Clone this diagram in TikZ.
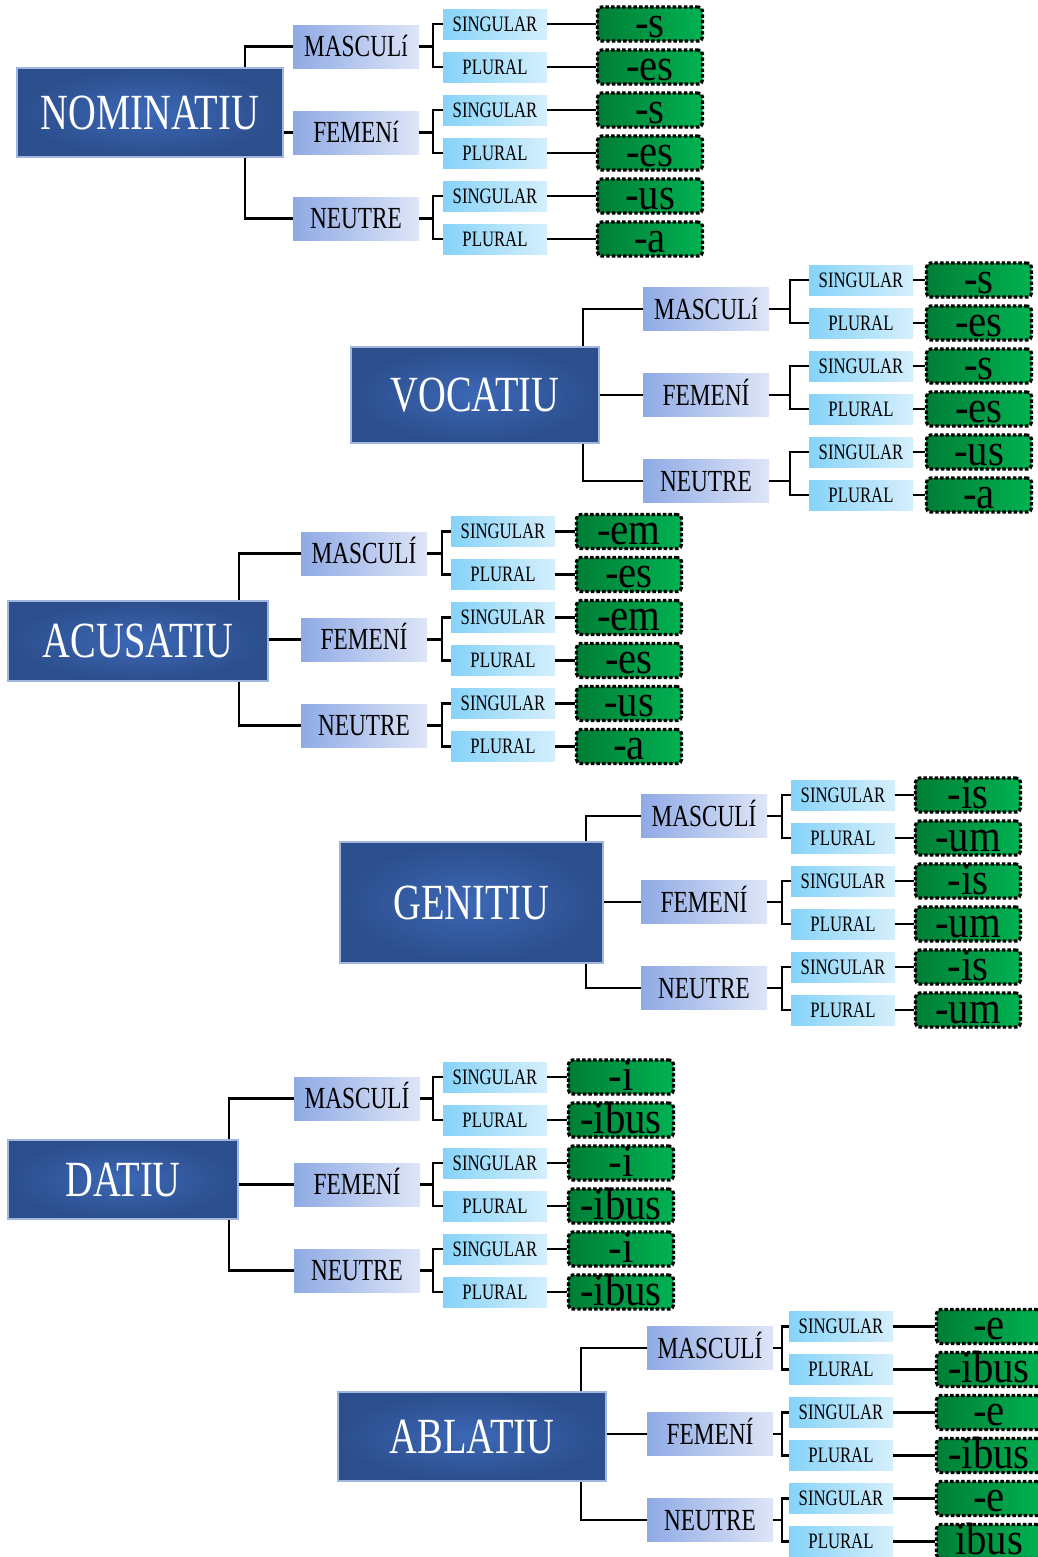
\documentclass[tikz,border=0pt]{standalone}
\usepackage{fontspec}
\setmainfont{Liberation Serif}[FakeStretch=0.76]
\newfontfamily\endingfont{Liberation Serif}[FakeStretch=0.9]

\newlength{\unitpx}
\setlength{\unitpx}{0.75pt}

\definecolor{caseinner}{RGB}{60,104,182}
\definecolor{caseouter}{RGB}{44,78,140}
\definecolor{caseline}{RGB}{160,182,222}
\definecolor{gendark}{RGB}{143,170,229}
\definecolor{genlight}{RGB}{222,229,247}
\definecolor{numdark}{RGB}{134,211,249}
\definecolor{numlight}{RGB}{213,239,252}
\definecolor{enddark}{RGB}{0,126,54}
\definecolor{endlight}{RGB}{0,178,82}

\tikzset{
  casebox/.style={draw=caseline, line width=0.8pt, inner color=caseinner, outer color=caseouter,
    text=white, inner sep=0pt, font=\fontsize{38}{40}\selectfont, text height=25pt, text depth=0pt},
  genbox/.style={left color=gendark, right color=genlight, minimum width=126\unitpx,
    minimum height=43\unitpx, inner sep=0pt, font=\fontsize{23}{24}\selectfont,
    text height=15pt, text depth=0pt},
  numbox/.style={left color=numdark, right color=numlight, minimum width=104\unitpx,
    minimum height=30\unitpx, inner sep=0pt, font=\fontsize{16.5}{18}\selectfont,
    text height=11pt, text depth=0pt},
  endbox/.style={draw=black, line width=2.4pt, dash pattern=on 2.6pt off 1.6pt, rounded corners=3pt,
    left color=enddark, right color=endlight, minimum width=105\unitpx, minimum height=34\unitpx,
    inner sep=0pt, font=\endingfont\fontsize{34}{36}\selectfont, text height=19.5pt, text depth=0pt},
  conn/.style={line width=2.2pt},
}

\begin{document}
\begin{tikzpicture}[x=0.75pt, y=-0.75pt]
  \path[use as bounding box, fill=white] (0,0) rectangle (1038,1557);

  % Nominatiu
  \node[casebox, minimum width=266\unitpx, minimum height=89\unitpx] (nom) at (150,112.5) {NOMINATIU};
  \coordinate (nom-t) at (245,112.5);
  \coordinate (nom-b) at (433,112.5);
  \foreach \g/\lab/\y in {m/MASCULí/46.5, f/FEMENí/132.5, n/NEUTRE/218.5}
    \node[genbox] (nom-\g) at (356,\y) {\lab};
  \foreach \e [count=\i from 0] in {-s,-es,-s,-es,-us,-a} {
    \node[numbox] (nom-l\i) at (495,{24+43*\i}) {\ifodd\i PLURAL\else SINGULAR\fi};
    \node[endbox] (nom-e\i) at (650,{24+43*\i}) {\e};
    \draw[conn] (nom-l\i) -- (nom-e\i);
  }
  \foreach \g/\a/\b in {m/0/1, f/2/3, n/4/5} {
    \draw[conn] (nom-\g.east) -- (nom-\g.east -| nom-b);
    \draw[conn] (nom-l\a.west) -| (nom-\g.east -| nom-b) |- (nom-l\b.west);
  }
  \draw[conn] (nom-m.west) -| (nom-t |- nom.north);
  \draw[conn] (nom-n.west) -| (nom-t |- nom.south);
  \draw[conn] (nom.east |- nom-f) -- (nom-f.west);

  % Vocatiu
  \node[casebox, minimum width=248\unitpx, minimum height=96\unitpx] (voc) at (475,395) {VOCATIU};
  \coordinate (voc-t) at (583,395);
  \coordinate (voc-b) at (790,395);
  \foreach \g/\lab/\y in {m/MASCULí/309, f/FEMENÍ/395, n/NEUTRE/481}
    \node[genbox] (voc-\g) at (706,\y) {\lab};
  \foreach \e [count=\i from 0] in {-s,-es,-s,-es,-us,-a} {
    \node[numbox] (voc-l\i) at (861,{280+43*\i}) {\ifodd\i PLURAL\else SINGULAR\fi};
    \node[endbox] (voc-e\i) at (979,{280+43*\i}) {\e};
    \draw[conn] (voc-l\i) -- (voc-e\i);
  }
  \foreach \g/\a/\b in {m/0/1, f/2/3, n/4/5} {
    \draw[conn] (voc-\g.east) -- (voc-\g.east -| voc-b);
    \draw[conn] (voc-l\a.west) -| (voc-\g.east -| voc-b) |- (voc-l\b.west);
  }
  \draw[conn] (voc-m.west) -| (voc-t |- voc.north);
  \draw[conn] (voc-n.west) -| (voc-t |- voc.south);
  \draw[conn] (voc.east |- voc-f) -- (voc-f.west);

  % Acusatiu
  \node[casebox, minimum width=260\unitpx, minimum height=80\unitpx] (acu) at (138,641) {ACUSATIU};
  \coordinate (acu-t) at (239,641);
  \coordinate (acu-b) at (442,641);
  \foreach \g/\lab/\y in {m/MASCULÍ/553.5, f/FEMENÍ/639.5, n/NEUTRE/725.5}
    \node[genbox] (acu-\g) at (364,\y) {\lab};
  \foreach \e [count=\i from 0] in {-em,-es,-em,-es,-us,-a} {
    \node[numbox] (acu-l\i) at (503,{531.5+43*\i}) {\ifodd\i PLURAL\else SINGULAR\fi};
    \node[endbox] (acu-e\i) at (629,{531.5+43*\i}) {\e};
    \draw[conn] (acu-l\i) -- (acu-e\i);
  }
  \foreach \g/\a/\b in {m/0/1, f/2/3, n/4/5} {
    \draw[conn] (acu-\g.east) -- (acu-\g.east -| acu-b);
    \draw[conn] (acu-l\a.west) -| (acu-\g.east -| acu-b) |- (acu-l\b.west);
  }
  \draw[conn] (acu-m.west) -| (acu-t |- acu.north);
  \draw[conn] (acu-n.west) -| (acu-t |- acu.south);
  \draw[conn] (acu.east |- acu-f) -- (acu-f.west);

  % Genitiu
  \node[casebox, minimum width=263\unitpx, minimum height=121\unitpx] (gen) at (471.5,902.5) {GENITIU};
  \coordinate (gen-t) at (586,902.5);
  \coordinate (gen-b) at (782,902.5);
  \foreach \g/\lab/\y in {m/MASCULÍ/816, f/FEMENÍ/902, n/NEUTRE/988}
    \node[genbox] (gen-\g) at (704,\y) {\lab};
  \foreach \e [count=\i from 0] in {-is,-um,-is,-um,-is,-um} {
    \node[numbox] (gen-l\i) at (843,{795+43*\i}) {\ifodd\i PLURAL\else SINGULAR\fi};
    \node[endbox] (gen-e\i) at (968,{795+43*\i}) {\e};
    \draw[conn] (gen-l\i) -- (gen-e\i);
  }
  \foreach \g/\a/\b in {m/0/1, f/2/3, n/4/5} {
    \draw[conn] (gen-\g.east) -- (gen-\g.east -| gen-b);
    \draw[conn] (gen-l\a.west) -| (gen-\g.east -| gen-b) |- (gen-l\b.west);
  }
  \draw[conn] (gen-m.west) -| (gen-t |- gen.north);
  \draw[conn] (gen-n.west) -| (gen-t |- gen.south);
  \draw[conn] (gen.east |- gen-f) -- (gen-f.west);

  % Datiu
  \node[casebox, minimum width=230\unitpx, minimum height=79\unitpx] (dat) at (123,1179.5) {DATIU};
  \coordinate (dat-t) at (229,1179.5);
  \coordinate (dat-b) at (433,1179.5);
  \foreach \g/\lab/\y in {m/MASCULÍ/1098.5, f/FEMENÍ/1184.5, n/NEUTRE/1270.5}
    \node[genbox] (dat-\g) at (357,\y) {\lab};
  \foreach \e [count=\i from 0] in {-i,-ibus,-i,-ibus,-i,-ibus} {
    \node[numbox] (dat-l\i) at (495,{1077+43*\i}) {\ifodd\i PLURAL\else SINGULAR\fi};
    \node[endbox] (dat-e\i) at (621,{1077+43*\i}) {\e};
    \draw[conn] (dat-l\i) -- (dat-e\i);
  }
  \foreach \g/\a/\b in {m/0/1, f/2/3, n/4/5} {
    \draw[conn] (dat-\g.east) -- (dat-\g.east -| dat-b);
    \draw[conn] (dat-l\a.west) -| (dat-\g.east -| dat-b) |- (dat-l\b.west);
  }
  \draw[conn] (dat-m.west) -| (dat-t |- dat.north);
  \draw[conn] (dat-n.west) -| (dat-t |- dat.south);
  \draw[conn] (dat.east |- dat-f) -- (dat-f.west);

  % Ablatiu
  \node[casebox, minimum width=268\unitpx, minimum height=89\unitpx] (abl) at (472,1436.5) {ABLATIU};
  \coordinate (abl-t) at (581,1436.5);
  \coordinate (abl-b) at (782,1436.5);
  \foreach \g/\lab/\y in {m/MASCULÍ/1348, f/FEMENÍ/1434, n/NEUTRE/1520}
    \node[genbox] (abl-\g) at (710,\y) {\lab};
  \foreach \e [count=\i from 0] in {-e,-ibus,-e,-ibus,-e,ibus} {
    \node[numbox] (abl-l\i) at (841,{1326.5+43*\i}) {\ifodd\i PLURAL\else SINGULAR\fi};
    \node[endbox] (abl-e\i) at (989,{1326.5+43*\i}) {\e};
    \draw[conn] (abl-l\i) -- (abl-e\i);
  }
  \foreach \g/\a/\b in {m/0/1, f/2/3, n/4/5} {
    \draw[conn] (abl-\g.east) -- (abl-\g.east -| abl-b);
    \draw[conn] (abl-l\a.west) -| (abl-\g.east -| abl-b) |- (abl-l\b.west);
  }
  \draw[conn] (abl-m.west) -| (abl-t |- abl.north);
  \draw[conn] (abl-n.west) -| (abl-t |- abl.south);
  \draw[conn] (abl.east |- abl-f) -- (abl-f.west);
\end{tikzpicture}
\end{document}
